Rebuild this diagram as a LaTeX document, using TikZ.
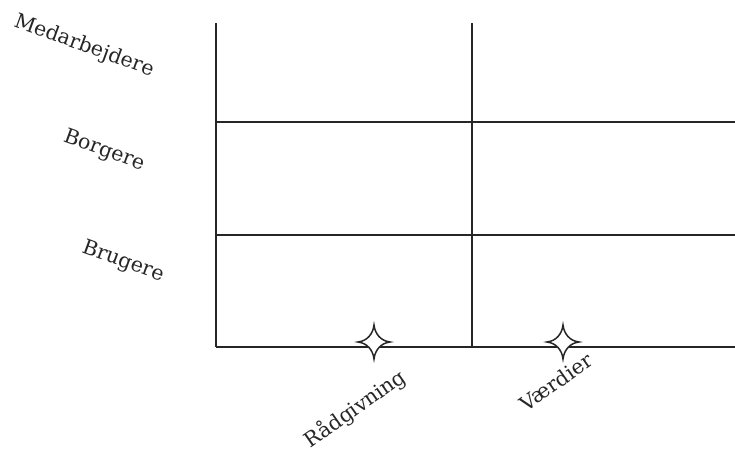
\documentclass[tikz,border=0pt]{standalone}
\usepackage{fontspec}
\setmainfont{DejaVu Serif}
\tikzset{
  grid line/.style={line width=2pt, draw=black!85},
  lbl/.style={text=black!85, font=\fontsize{20.5}{24}\selectfont, inner sep=0pt},
  sparkle/.style={draw=black!85, line width=1.5pt, fill=white, line join=miter}
}
\newcommand{\mystar}[1]{%
  \path[sparkle] (#1) ++(0,-17) .. controls +(1,9) and +(-9,-1) .. ++(16,17)
    .. controls +(-9,1) and +(1,-9) .. ++(-16,17)
    .. controls +(-1,-9) and +(9,1) .. ++(-16,-17)
    .. controls +(9,-1) and +(-1,9) .. cycle;}
\begin{document}
\begin{tikzpicture}[x=1pt,y=-1pt]
\useasboundingbox (0,0) rectangle (735,451);
\coordinate (tl) at (216,23);
\coordinate (tm) at (472,23);
\coordinate (l1) at (216,122);
\coordinate (r1) at (735,122);
\coordinate (l2) at (216,235);
\coordinate (r2) at (735,235);
\coordinate (bl) at (216,347);
\coordinate (bm) at (472,347);
\coordinate (br) at (735,347);
\draw[grid line] (tl) -- (bl);
\draw[grid line] (tm) -- (bm);
\draw[grid line] (l1) -- (r1);
\draw[grid line] (l2) -- (r2);
\draw[grid line] (bl) -- (br);
\coordinate (s1) at (374,342);
\coordinate (s2) at (563,342);
\mystar{s1}
\mystar{s2}
\node[lbl, rotate=-20] (med) at (84,46) {Medarbejdere};
\node[lbl, rotate=-20] (bor) at (104,151) {Borgere};
\node[lbl, rotate=-20] (bru) at (123,262) {Brugere};
\node[lbl, rotate=35] (rad) at (355,409) {Rådgivning};
\node[lbl, rotate=35] (vaer) at (556,382) {Værdier};
\end{tikzpicture}
\end{document}
